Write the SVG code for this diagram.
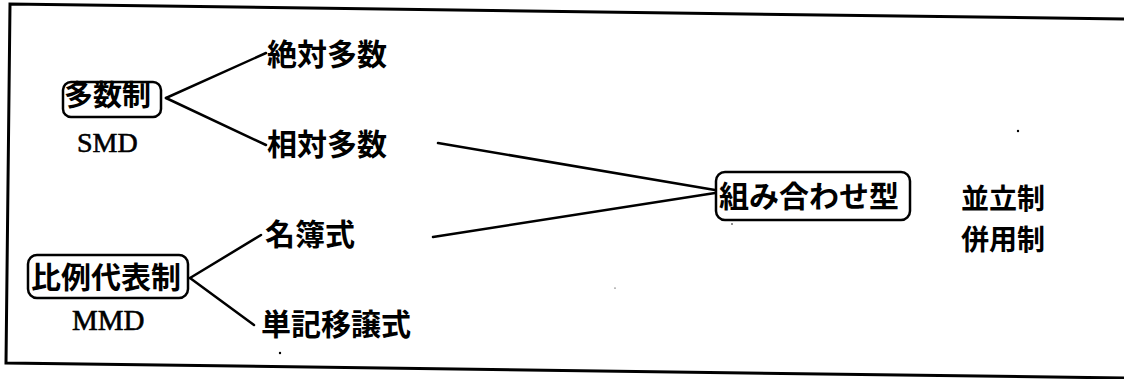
<svg xmlns="http://www.w3.org/2000/svg" width="1124" height="379" viewBox="0 0 1124 379">
<style>
.jp{font-family:"Noto Sans CJK JP","Noto Sans CJK SC",sans-serif;font-weight:bold;fill:#000}
.en{font-family:"Liberation Serif",serif;fill:#000;stroke:#000;stroke-width:0.6}
.box{fill:none;stroke:#000;stroke-width:2.5}
.conn line{stroke:#000;stroke-width:2.5;stroke-linecap:round}
.frame{fill:none;stroke:#000;stroke-width:3}
</style>
<rect width="1124" height="379" fill="#fff"/>
<polyline class="frame" points="1124,19 10,4 6,363 1124,378"/>
<g class="conn">
<line x1="166" y1="98" x2="266" y2="53"/>
<line x1="166" y1="98" x2="266" y2="145"/>
<line x1="190" y1="278" x2="261" y2="235"/>
<line x1="190" y1="278" x2="254" y2="325"/>
<line x1="438" y1="143" x2="715" y2="190"/>
<line x1="433" y1="237" x2="715" y2="193"/>
</g>
<g id="n-tasuusei">
<rect class="box" x="63" y="82" width="98" height="35" rx="8"/>
<text class="jp" x="64" y="106" font-size="29">多数制</text>
<text class="en" x="77" y="152" font-size="28">SMD</text>
</g>
<g id="n-zettai"><text class="jp" x="267" y="65" font-size="30">絶対多数</text></g>
<g id="n-soutai"><text class="jp" x="267" y="155" font-size="30">相対多数</text></g>
<g id="n-hirei">
<rect class="box" x="28" y="255" width="160" height="43" rx="9"/>
<text class="jp" x="31" y="288" font-size="30">比例代表制</text>
<text class="en" x="72" y="330" font-size="29">MMD</text>
</g>
<g id="n-meibo"><text class="jp" x="265" y="245" font-size="30">名簿式</text></g>
<g id="n-tanki"><text class="jp" x="261" y="335" font-size="30">単記移譲式</text></g>
<g id="n-kumiawase">
<rect class="box" x="716" y="172" width="194" height="48" rx="9"/>
<text class="jp" x="719" y="207" font-size="30">組み合わせ型</text>
</g>
<g id="n-heiritsu"><text class="jp" x="961" y="209" font-size="28">並立制</text></g>
<g id="n-heiyou"><text class="jp" x="961" y="250" font-size="28">併用制</text></g>
<g fill="#000">
<circle cx="280" cy="353" r="1.2"/>
<circle cx="1018" cy="131" r="1.2"/>
<circle cx="732" cy="224" r="0.8"/>
<circle cx="615" cy="288" r="0.6"/>
</g>
</svg>
